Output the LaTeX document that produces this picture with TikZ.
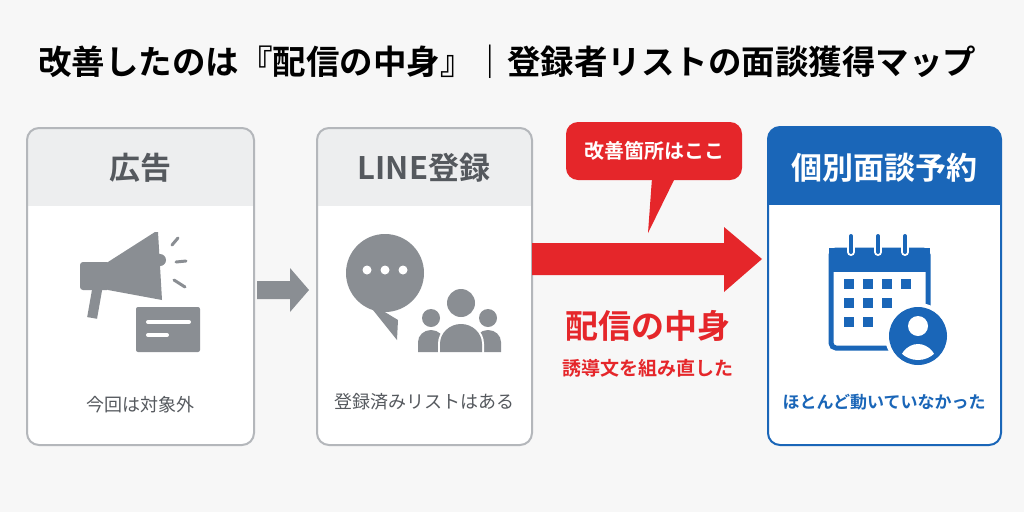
\documentclass[tikz,border=0pt]{standalone}
\usepackage{fontspec}
\newfontfamily\jp{Noto Sans CJK JP}[BoldFont={* Bold}]
\definecolor{bg}{HTML}{F7F7F7}
\definecolor{gb}{HTML}{B4B7BB}
\definecolor{hd}{HTML}{EDEEEF}
\definecolor{ic}{HTML}{8A8E93}
\definecolor{tx}{HTML}{55595E}
\definecolor{bl}{HTML}{1A66B8}
\definecolor{rd}{HTML}{E5262A}
\begin{document}
\begin{tikzpicture}[x=1pt,y=-1pt,font=\jp,
  card/.style={rounded corners=12pt,line width=2pt},
  ttl/.style={font=\jp\bfseries\fontsize{31}{34}\selectfont},
  captxt/.style={font=\jp\fontsize{18}{20}\selectfont}]
\fill[bg] (0,0) rectangle (1024,512);
\useasboundingbox (0,0) rectangle (1024,512);
\node[font=\jp\bfseries\fontsize{33.5}{36}\selectfont,anchor=center] (title) at (507,62) {改善したのは『配信の中身』｜登録者リストの面談獲得マップ};
% card 1
\begin{scope}
\clip[rounded corners=12pt] (27,128) rectangle (254,445);
\fill[white] (27,128) rectangle (254,445);
\fill[hd] (27,128) rectangle (254,206);
\end{scope}
\draw[card,gb] (27,128) rectangle (254,445);
\node[ttl,text=tx] (t1) at (140,168) {広告};
\node[captxt,text=tx] (c1) at (140,405) {今回は対象外};
% megaphone
\fill[ic,rounded corners=3pt] (80,262) rectangle (110,290);
\fill[ic] (108,262) -- (155,232) -- (158,232) -- (162,300) -- (108,290) -- cycle;
\fill[ic] (160,260) circle (6);
\fill[ic,rotate around={-10:(95,290)}] (92,288) rectangle (102,318);
\draw[ic,line width=3pt,line cap=round] (172,245)--(178,238) (176,262)--(186,261) (174,280)--(185,287);
\fill[ic,rounded corners=2pt] (136,307) rectangle (200,352);
\draw[white,line width=4pt,line cap=round] (148,322)--(189,322) (148,335)--(167,335);
% arrow gray
\fill[ic] (257,281) -- (290,281) -- (290,268) -- (309,290) -- (290,312) -- (290,299) -- (257,299) -- cycle;
% card 2
\begin{scope}
\clip[rounded corners=12pt] (317,128) rectangle (532,445);
\fill[white] (317,128) rectangle (532,445);
\fill[hd] (317,128) rectangle (532,206);
\end{scope}
\draw[card,gb] (317,128) rectangle (532,445);
\node[ttl,text=tx] (t2) at (424,168) {LINE登録};
\node[captxt,text=tx] (c2) at (424,402) {登録済みリストはある};
% chat bubble
\fill[ic] (385,273) circle (39);
\fill[ic] (365,300) -- (398,320) -- (397,340) -- cycle;
\fill[white] (367,270) circle (4.5) (385,270) circle (4.5) (403,270) circle (4.5);
% people
\fill[ic] (461,303) circle (14);
\fill[ic] (431,318) circle (9);
\fill[ic] (488,318) circle (9);
\fill[ic] (418,352) -- (418,342) arc (180:360:13 and 12) -- (444,352) -- cycle;
\fill[ic] (475,352) -- (475,342) arc (180:360:13 and 12) -- (501,352) -- cycle;
\fill[white] (438,354) -- (438,344) arc (180:360:23 and 22) -- (484,354) -- cycle;
\fill[ic] (440,352) -- (440,344) arc (180:360:21 and 20) -- (482,352) -- cycle;
\fill[white] (461,303) circle (16);
\fill[ic] (461,303) circle (14);
% red arrow
\fill[rd] (532,243) -- (724,243) -- (724,227) -- (762,259) -- (724,292) -- (724,275) -- (532,275) -- cycle;
% callout
\node[fill=rd,rounded corners=12pt,minimum width=176pt,minimum height=58pt,text=white,font=\jp\bfseries\fontsize{20}{22}\selectfont] (call) at (654,151) {改善箇所はここ};
\fill[rd] (652,178) -- (648,233) -- (675,178) -- cycle;
\node[text=rd,font=\jp\bfseries\fontsize{33}{36}\selectfont] (m1) at (648,326) {配信の中身};
\node[text=rd,font=\jp\bfseries\fontsize{19}{21}\selectfont] (m2) at (648,368) {誘導文を組み直した};
% card 3
\begin{scope}
\clip[rounded corners=12pt] (768,127) rectangle (1001,445);
\fill[white] (768,127) rectangle (1001,445);
\fill[bl] (768,127) rectangle (1001,205);
\end{scope}
\draw[card,bl] (768,127) rectangle (1001,445);
\node[ttl,text=white] (t3) at (884,168) {個別面談予約};
\node[text=bl,font=\jp\bfseries\fontsize{17}{19}\selectfont] (c3) at (884,402) {ほとんど動いていなかった};
% calendar
\draw[bl,line width=5pt,rounded corners=5pt] (831,250) rectangle (928,348);
\fill[bl] (829,248) rectangle (930,272);
\foreach \x in {851,878,905}{
 \draw[white,line width=8pt,line cap=round] (\x,237)--(\x,252);
 \draw[bl,line width=4pt,line cap=round] (\x,236)--(\x,252);}
\foreach \x/\y in {849/284,868/284,887/284,906/284,849/303,868/303,887/303,849/322,868/322}
 \fill[bl] (\x-5,\y-5) rectangle (\x+5,\y+5);
\fill[white] (918,336) circle (33);
\fill[bl] (918,336) circle (29);
\fill[white] (918,326) circle (10);
\begin{scope}
\clip (918,336) circle (24);
\fill[white] (918,368) ellipse (20 and 24);
\end{scope}
\end{tikzpicture}
\end{document}
